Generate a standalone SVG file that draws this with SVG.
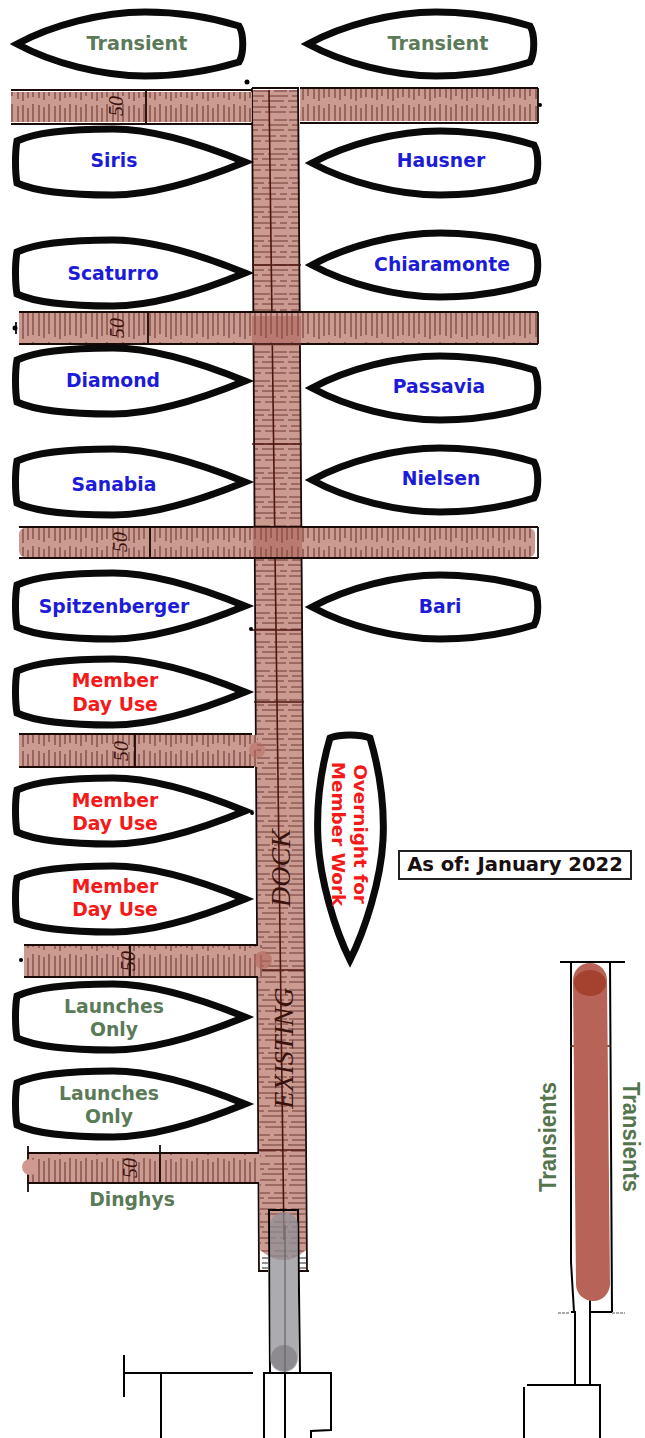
<svg xmlns="http://www.w3.org/2000/svg" width="645" height="1438" viewBox="0 0 645 1438">
<style>
.hull{fill:#fff;stroke:#0a0a0a;stroke-width:7;stroke-linejoin:miter}
.t{font-family:"DejaVu Sans",Verdana,sans-serif;font-weight:700;font-size:18.8px;text-anchor:middle}
.g{fill:#5a7a58}.b{fill:#1c1cd8}.r{fill:#f41a1a}
.tr{font-family:"Liberation Sans",Arial,sans-serif;font-weight:700;font-size:24px;fill:#55754f}
.hw{font-family:"Liberation Serif",serif;font-style:italic;fill:#3a120c;text-anchor:middle}
.ink{fill:none;stroke:#1a0a08;stroke-width:1.8}
.red{fill:none;stroke:#4f1610;stroke-width:1.6}
.blk{fill:none;stroke:#000;stroke-width:2}
</style>
<defs>
<pattern id="vh" width="37" height="34" patternUnits="userSpaceOnUse">
<rect width="37" height="34" fill="#cb9a91"/>
<path d="M2 3V30M7 5V32M12 2V28M18 4V31M23 3V33M28 6V30M33 2V29" stroke="#4a1610" stroke-width="1" opacity=".8"/>
</pattern>
<pattern id="hh" width="48" height="29" patternUnits="userSpaceOnUse">
<rect width="48" height="29" fill="#cb9a91"/>
<path d="M1 4H30M34 4H47M4 9H24M28 9H48M0 14H18M22 14H44M3 20H36M40 20H47M1 25H21M25 25H46" stroke="#4a1610" stroke-width=".9" opacity=".8"/>
</pattern>
<path id="bR" d="M1 -21C18 -29 55 -33 97 -33C135 -33 180 -20 229 0C180 20 135 33 97 33C55 33 18 29 1 21C-1 10 -1 -10 1 -21Z"/>
<path id="bL" d="M0 0C35 -19 85 -32 128 -32C163 -32 193 -27 222 -18C227 -10 227 10 222 18C193 27 163 32 128 32C85 32 35 19 0 0Z"/>
</defs>
<g id="connectors">
<path id="dock-foot" d="M260 1250V1271H307V1250Z" fill="#fff"/>
<path d="M262 1258H268M262 1263H268M262 1268H268M299 1258H306M299 1263H306M299 1268H306" stroke="#222" stroke-width="1"/>
<path id="main-dock" d="M252 90H299L306 1250Q284 1270 260 1250Z" fill="url(#hh)"/>
<path class="ink" d="M252 88L259 1271M298 88L307 1271M252 88H299M258 1271H268M298 1271H309"/>
<path class="red" d="M269 90L284 1240M252 265H301M252 444H302M252 630H303M254 702H304M258 970H305M259 1150H306"/>
<rect id="pier-1l" x="11" y="92" width="241" height="30" fill="url(#vh)"/>
<rect id="pier-1r" x="300" y="89" width="238" height="32" fill="url(#vh)"/>
<rect id="pier-2" x="19" y="312" width="519" height="32" fill="url(#vh)"/>
<rect id="pier-3" x="19" y="528" width="516" height="29" rx="6" fill="url(#vh)"/>
<rect id="pier-4" x="19" y="735" width="238" height="32" fill="url(#vh)"/>
<rect id="pier-5" x="24" y="945" width="238" height="32" fill="url(#vh)"/>
<rect id="pier-6" x="27" y="1153" width="233" height="30" fill="url(#vh)"/>
<path class="ink" d="M11 90H252M11 124H252M300 88H538M300 123H538M19 312H538M19 344H538M19 527H538M19 558H538M19 734H252M19 767H254M24 945H258M24 977H258M27 1153H259M27 1183H259M28 1146V1192M146 90V124M148 312V344M150 527V558M135 734V767M130 945V977M160 1145V1183M538 88V123M538 312V344M538 527V558M16 322V334"/>
<rect x="252" y="316" width="49" height="30" fill="#9c4a40" opacity=".4"/>
<rect x="253" y="527" width="49" height="30" fill="#9c4a40" opacity=".4"/>
<circle cx="257" cy="750" r="8" fill="#b4655a" opacity=".5"/>
<circle cx="263" cy="960" r="9" fill="#b4655a" opacity=".6"/>
<circle cx="30" cy="1167" r="8" fill="#d09a90"/>
<g fill="#000"><circle cx="251" cy="629" r="2"/><circle cx="252" cy="813" r="2"/><circle cx="21" cy="960" r="2"/><circle cx="540" cy="105" r="2"/><circle cx="15" cy="328" r="2.5"/><circle cx="247" cy="82" r="2.5"/></g>
<text class="hw" font-size="20" transform="translate(123 98) rotate(-90)" x="-8" y="0">50</text>
<text class="hw" font-size="20" transform="translate(124 318) rotate(-90)" x="-10" y="0">50</text>
<text class="hw" font-size="20" transform="translate(127 534) rotate(-90)" x="-8" y="0">50</text>
<text class="hw" font-size="20" transform="translate(128 751) rotate(-90)" x="0" y="0">50</text>
<text class="hw" font-size="20" transform="translate(135 961) rotate(-90)" x="0" y="0">50</text>
<text class="hw" font-size="20" transform="translate(137 1168) rotate(-90)" x="0" y="0">50</text>
<text class="hw" font-size="28" transform="translate(290 868) rotate(-90)">DOCK</text>
<text class="hw" font-size="28" transform="translate(293 1048) rotate(-90)">EXISTING</text>
<path class="blk" d="M268 1210H298L300 1372M269 1210L270 1372"/>
<rect id="ramp" x="270" y="1212" width="28" height="160" rx="14" fill="#8f8f95" opacity=".75"/>
<circle cx="284" cy="1358" r="13" fill="#8d8a90"/>
<path d="M285 1225V1372" stroke="#666" stroke-width="1.2"/>
<path class="blk" d="M124 1355V1397M124 1373H253M161 1373V1438M263 1373H331V1430L311 1431V1438M264 1373V1438M285 1373V1438"/>
<path class="blk" d="M571 962V1262L574 1312M610 962L612 1312M560 962H625" stroke-width="2.6"/>
<path d="M570 1046H611" stroke="#5a1a10" stroke-width="1.5"/>
<path class="blk" d="M571 1312H575V1385M590 1300V1385M590 1312H612M527 1385H600V1438M524 1387V1438"/>
<path d="M558 1313H570M612 1313H625" stroke="#555" stroke-width="1" stroke-dasharray="3 1"/>
<path id="transient-bar" d="M590 980L593 1284" stroke="#b86357" stroke-width="34" stroke-linecap="round"/>
<ellipse cx="590" cy="983" rx="16" ry="13" fill="#a5412f"/>
</g>
<g id="boat-transient-l"><use href="#bL" class="hull" x="17" y="44"/><text class="t g" style="font-size:19.2px" x="137" y="50">Transient</text></g>
<g id="boat-transient-r"><use href="#bL" class="hull" x="308" y="44"/><text class="t g" style="font-size:19.2px" x="438" y="50">Transient</text></g>
<g id="boat-siris"><use href="#bR" class="hull" x="16" y="162"/><text class="t b" x="114" y="167">Siris</text></g>
<g id="boat-hausner"><use href="#bL" class="hull" x="312" y="163"/><text class="t b" x="441" y="167">Hausner</text></g>
<g id="boat-scaturro"><use href="#bR" class="hull" x="16" y="273"/><text class="t b" x="113" y="280">Scaturro</text></g>
<g id="boat-chiaramonte"><use href="#bL" class="hull" x="312" y="265"/><text class="t b" x="442" y="271">Chiaramonte</text></g>
<g id="boat-diamond"><use href="#bR" class="hull" x="16" y="381"/><text class="t b" x="113" y="387">Diamond</text></g>
<g id="boat-passavia"><use href="#bL" class="hull" x="312" y="388"/><text class="t b" x="439" y="393">Passavia</text></g>
<g id="boat-sanabia"><use href="#bR" class="hull" x="16" y="482"/><text class="t b" x="114" y="491">Sanabia</text></g>
<g id="boat-nielsen"><use href="#bL" class="hull" x="312" y="480"/><text class="t b" x="441" y="485">Nielsen</text></g>
<g id="boat-spitzenberger"><use href="#bR" class="hull" x="16" y="606"/><text class="t b" x="114" y="613">Spitzenberger</text></g>
<g id="boat-bari"><use href="#bL" class="hull" x="312" y="607"/><text class="t b" x="440" y="613">Bari</text></g>
<g id="boat-member-1"><use href="#bR" class="hull" x="16" y="692"/><text class="t r"><tspan x="115" y="687">Member</tspan><tspan x="115" y="711">Day Use</tspan></text></g>
<g id="boat-member-2"><use href="#bR" class="hull" x="16" y="811"/><text class="t r"><tspan x="115" y="807">Member</tspan><tspan x="115" y="830">Day Use</tspan></text></g>
<g id="boat-member-3"><use href="#bR" class="hull" x="16" y="899"/><text class="t r"><tspan x="115" y="893">Member</tspan><tspan x="115" y="916">Day Use</tspan></text></g>
<g id="boat-launch-1"><use href="#bR" class="hull" x="16" y="1017"/><text class="t g"><tspan x="114" y="1013">Launches</tspan><tspan x="114" y="1036">Only</tspan></text></g>
<g id="boat-launch-2"><use href="#bR" class="hull" x="16" y="1104"/><text class="t g"><tspan x="109" y="1100">Launches</tspan><tspan x="109" y="1123">Only</tspan></text></g>
<g id="boat-overnight"><path class="hull" d="M330 738C340 734 360 734 370 738C378 765 385 800 383 840C381 880 365 930 350 960C335 930 320 880 318 840C316 800 322 765 330 738Z"/>
<text class="t r" style="text-anchor:middle;font-size:18.4px" transform="translate(354 834) rotate(90)">Overnight for</text>
<text class="t r" style="text-anchor:middle;font-size:18.4px" transform="translate(332 834) rotate(90)">Member Work</text></g>
<g id="as-of"><rect x="399" y="851" width="232" height="28" fill="#fff" stroke="#222" stroke-width="2"/><text x="515" y="871" style="font-family:'DejaVu Sans',sans-serif;font-weight:700;font-size:19.6px;text-anchor:middle;fill:#1a0f10">As of: January 2022</text></g>
<text class="t g" x="132" y="1206">Dinghys</text>
<text class="tr" text-anchor="middle" textLength="110" lengthAdjust="spacingAndGlyphs" transform="translate(556 1137) rotate(-90)">Transients</text>
<text class="tr" text-anchor="middle" textLength="110" lengthAdjust="spacingAndGlyphs" transform="translate(623 1137) rotate(90)">Transients</text>
</svg>
